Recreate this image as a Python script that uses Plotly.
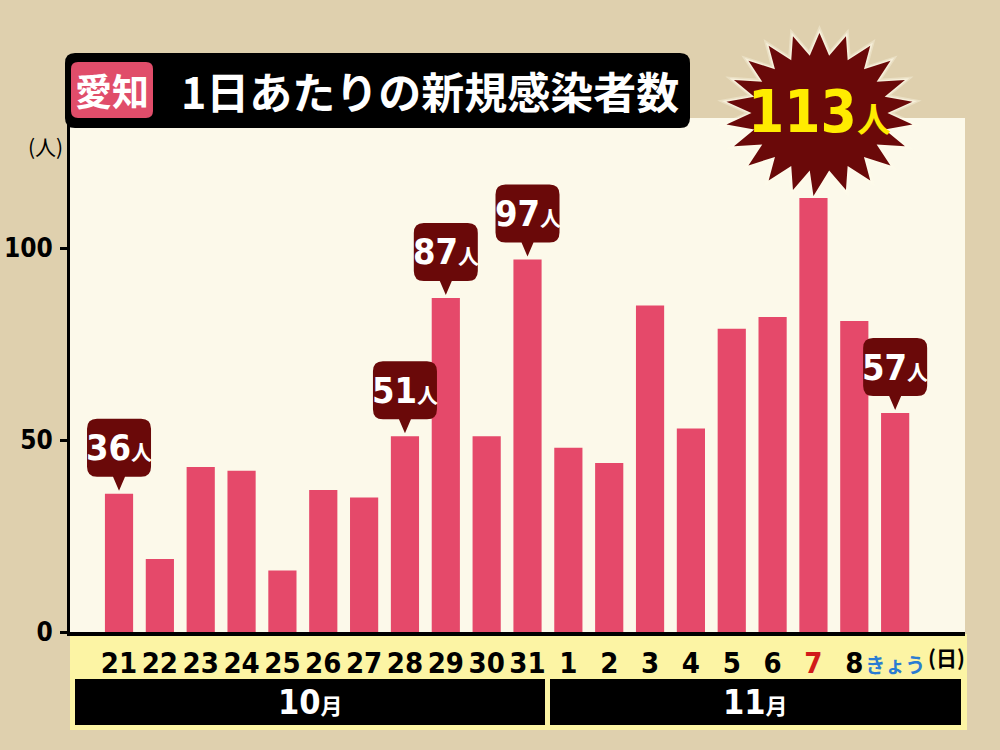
import math
import plotly.graph_objects as go

# ---------------- data ----------------
days = ["21", "22", "23", "24", "25", "26", "27", "28", "29", "30", "31",
        "1", "2", "3", "4", "5", "6", "7", "8", "きょう"]
cases = [36, 19, 43, 42, 16, 37, 35, 51, 87, 51, 97,
         48, 44, 85, 53, 79, 82, 113, 81, 57]
months = ["10月", "11月"]
labeled_days = ["21", "28", "29", "31", "きょう"]
peak_day = "7"
y_ticks = [0, 50, 100]
title_pref = "愛知"
title_text = "1日あたりの新規感染者数"
y_unit = "(人)"
x_unit = "(日)"
unit = "人"

# ---------------- style ----------------
BG = "#dfd0ae"
PLOT_BG = "#fcf9ea"
BAR = "#e5496a"
BUBBLE = "#6a0909"
BAND = "#fcf4a4"
NUM = "DejaVu Sans Condensed, Roboto, Noto Sans CJK JP, sans-serif"
JP = "Noto Sans CJK JP, sans-serif"

W, H = 1000, 750
L, R, T, B = 70, 965, 118, 632
XR = [-1.2, 20.71]
PX_PER_UNIT = 3.84
YR = [0, (B - T) / PX_PER_UNIT]


def px(x):
    return (x - L) / (R - L)


def py(y):
    return (B - y) / (B - T)


xs = list(range(len(days)))

fig = go.Figure()
fig.add_trace(go.Bar(x=xs, y=cases, width=0.69, marker=dict(color=BAR, line=dict(width=0)),
                     hoverinfo="skip"))

ticktext = []
for d in days:
    if d == peak_day:
        ticktext.append(f"<span style='color:#d11a1a'>{d}</span>")
    elif d == "きょう":
        ticktext.append(f"<span style='color:#2a7cd2;font-family:Noto Sans CJK JP;font-size:20px'>{d}</span>")
    else:
        ticktext.append(d)

shapes = []
annotations = []

# yellow band under axis and month bars
shapes.append(dict(type="rect", xref="paper", yref="paper", x0=px(70), x1=px(967),
                   y0=py(634), y1=py(730), fillcolor=BAND, line=dict(width=0), layer="below"))
mx = [(75, 545), (550, 961)]
for mi, m in enumerate(months):
    x0, x1 = mx[mi]
    shapes.append(dict(type="rect", xref="paper", yref="paper", x0=px(x0), x1=px(x1),
                       y0=py(679), y1=py(725), fillcolor="black", line=dict(width=0), layer="below"))
    annotations.append(dict(xref="paper", yref="paper", x=px((x0 + x1) / 2), y=py(702),
                            xanchor="center", yanchor="middle",
                            text=f"{m[:-1]}<span style='font-size:22px;font-family:Noto Sans CJK JP'>{m[-1]}</span>",
                            showarrow=False, font=dict(family=NUM, size=34, color="white", weight="bold")))

# bubbles
for d in labeled_days:
    i = days.index(d)
    v = cases[i]
    path = ("M 0,3 L 6,17 L 22,17 Q 32,17 32,27 L 32,65 Q 32,75 22,75 L -22,75 "
            "Q -32,75 -32,65 L -32,27 Q -32,17 -22,17 L -6,17 Z")
    shapes.append(dict(type="path", xref="x", yref="y", xsizemode="pixel", ysizemode="pixel",
                       xanchor=i, yanchor=v, path=path, fillcolor=BUBBLE, line=dict(width=0)))
    annotations.append(dict(x=i, y=v, xref="x", yref="y", yshift=46, showarrow=False,
                            xanchor="center", yanchor="middle",
                            text=f"{v}<span style='font-size:21px;font-family:Noto Sans CJK JP'>{unit}</span>",
                            font=dict(family=NUM, size=36, color="white", weight="bold")))

# starburst for peak (paper-referenced so it is not clipped by the plot area)
pi = days.index(peak_day)
pv = cases[pi]
ax_pix = L + (pi - XR[0]) / (XR[1] - XR[0]) * (R - L)
ay_pix = B - pv * PX_PER_UNIT


def star_path(scale, n=22, cx=6, cy=85, rxo=94, ryo=80, rxi=68, ryi=58):
    pts = []
    for k in range(2 * n):
        a = math.radians(-90 + k * 180 / n)
        if k % 2 == 0:
            x, y = cx + rxo * scale * math.cos(a), cy + ryo * scale * math.sin(a)
        else:
            x, y = cx + rxi * scale * math.cos(a), cy + ryi * scale * math.sin(a)
        if k == 0:
            x, y = 0, 2
        pts.append((x, y))
    return "M " + " L ".join(f"{x:.1f},{y:.1f}" for x, y in pts) + " Z"


for sc, col in [(1.10, "rgba(255,252,235,0.35)"), (1.05, "rgba(255,252,235,0.6)"), (1.0, BUBBLE)]:
    shapes.append(dict(type="path", xref="paper", yref="paper", xsizemode="pixel", ysizemode="pixel",
                       xanchor=px(ax_pix), yanchor=py(ay_pix), path=star_path(sc),
                       fillcolor=col, line=dict(width=0), layer="above"))
annotations.append(dict(x=pi, y=pv, xref="x", yref="y", yshift=86, xshift=6, showarrow=False,
                        xanchor="center", yanchor="middle",
                        text=f"{pv}<span style='font-size:34px;font-family:Noto Sans CJK JP'>{unit}</span>",
                        font=dict(family=NUM, size=58, color="#ffec00", weight="bold")))

# title box
shapes.append(dict(type="path", xref="paper", yref="paper",
                   path=(f"M {px(75)},{py(53)} L {px(680)},{py(53)} Q {px(690)},{py(53)} {px(690)},{py(63)} "
                         f"L {px(690)},{py(118)} Q {px(690)},{py(128)} {px(680)},{py(128)} "
                         f"L {px(75)},{py(128)} Q {px(65)},{py(128)} {px(65)},{py(118)} "
                         f"L {px(65)},{py(63)} Q {px(65)},{py(53)} {px(75)},{py(53)} Z"),
                   fillcolor="black", line=dict(width=0), layer="above"))
shapes.append(dict(type="path", xref="paper", yref="paper",
                   path=(f"M {px(78)},{py(62)} L {px(146)},{py(62)} Q {px(153)},{py(62)} {px(153)},{py(69)} "
                         f"L {px(153)},{py(111)} Q {px(153)},{py(118)} {px(146)},{py(118)} "
                         f"L {px(78)},{py(118)} Q {px(71)},{py(118)} {px(71)},{py(111)} "
                         f"L {px(71)},{py(69)} Q {px(71)},{py(62)} {px(78)},{py(62)} Z"),
                   fillcolor="#e04d6a", line=dict(width=0), layer="above"))
annotations.append(dict(xref="paper", yref="paper", x=px(112), y=py(90), showarrow=False,
                        xanchor="center", yanchor="middle",
                        text=title_pref, font=dict(family=JP, size=37, color="white", weight="bold")))
annotations.append(dict(xref="paper", yref="paper", x=px(430), y=py(90), showarrow=False,
                        xanchor="center", yanchor="middle",
                        text=title_text, font=dict(family=JP, size=43, color="white", weight="bold")))

# axis unit labels
annotations.append(dict(xref="paper", yref="paper", x=px(45), y=py(146), showarrow=False,
                        xanchor="center", yanchor="middle",
                        text=y_unit, font=dict(family=JP, size=21, color="black")))
annotations.append(dict(xref="paper", yref="paper", x=px(946), y=py(657), showarrow=False,
                        xanchor="center", yanchor="middle",
                        text=x_unit, font=dict(family=JP, size=21, color="black", weight="bold")))

fig.update_layout(
    width=W, height=H,
    margin=dict(l=L, r=W - R, t=T, b=H - B, pad=0, autoexpand=False),
    paper_bgcolor=BG, plot_bgcolor=PLOT_BG,
    showlegend=False, bargap=0.3,
    shapes=shapes, annotations=annotations,
    xaxis=dict(range=XR, tickmode="array", tickvals=xs, ticktext=ticktext, tickangle=0,
               automargin=False,
               showgrid=False, zeroline=False, showline=True, linecolor="black", linewidth=4,
               ticks="", ticklabelstandoff=2,
               tickfont=dict(family=NUM, size=29, color="black", weight="bold"), fixedrange=True),
    yaxis=dict(range=YR, tickmode="array", tickvals=y_ticks, automargin=False,
               showgrid=False, zeroline=False, showline=True, linecolor="black", linewidth=3,
               ticks="outside", ticklen=7, tickwidth=3, tickcolor="black", ticklabelstandoff=2,
               tickfont=dict(family=NUM, size=26, color="black", weight="bold"), fixedrange=True),
)

fig.write_html("out.html", config={"displayModeBar": False, "staticPlot": True},
               post_script="document.body.style.margin='0';")
